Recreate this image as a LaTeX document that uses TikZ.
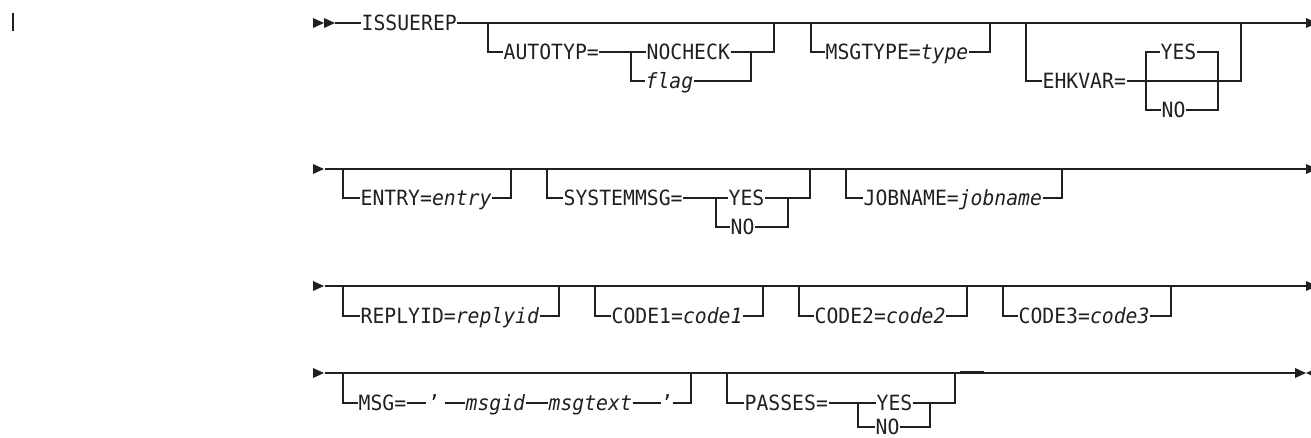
\documentclass[tikz,border=0pt]{standalone}
\usepackage{fontspec}
\newfontfamily\dgfont[FakeStretch=0.94]{DejaVu Sans Mono}
\definecolor{ink}{RGB}{35,31,32}
\tikzset{
  ln/.style={draw=ink, line width=1.2pt},
  kw/.style={font=\dgfont\fontsize{21pt}{25pt}\selectfont, text=ink, inner xsep=0.5pt, inner ysep=0pt,
             text height=15pt, text depth=0pt, anchor=west},
  qt/.style={kw, anchor=center, inner xsep=0pt},
  rtri/.pic={\fill[ink] (0,-5) -- (11,0) -- (0,5) -- cycle;},
  ltri/.pic={\fill[ink] (11,-5) -- (0,0) -- (11,5) -- cycle;},
}
\begin{document}
\begin{tikzpicture}[x=1pt,y=-1pt]
\useasboundingbox (0,0) rectangle (1311,437);
% revision bar
\draw[ink, line width=2.6pt] (13,13) -- (13,31);

% ---------------- row 1 ----------------
\pic at (313,23) {rtri};
\pic at (324,23) {rtri};
\coordinate (s1) at (335,23);
\node[kw] (issue) at (361,23) {ISSUEREP};
\coordinate (e1) at (1306,23);
\draw[ln] (s1) -- (issue.west);
\draw[ln] (issue.east) -- (e1);
\pic at (e1) {rtri};
% AUTOTYP
\coordinate (a0) at (488,23);
\node[kw] (auto) at (503,52) {AUTOTYP=};
\coordinate (a1) at (631,52);
\coordinate (a1b) at (631,81);
\node[kw] (nochk) at (646,52) {NOCHECK};
\node[kw] (flag) at (645,81) {\itshape flag};
\coordinate (a2) at (751,52);
\coordinate (a2b) at (751,81);
\coordinate (a3) at (774,23);
\draw[ln] (a0) |- (auto.west);
\draw[ln] (auto.east) -- (a1) -- (nochk.west);
\draw[ln] (a1) -- (a1b) -- (flag.west);
\draw[ln] (nochk.east) -- (a2) -| (a3);
\draw[ln] (flag.east) -- (a2b) -- (a2);
% MSGTYPE
\coordinate (m0) at (811,23);
\node[kw] (msgt) at (825,52) {MSGTYPE=\textit{type}};
\coordinate (m1) at (990,23);
\draw[ln] (m0) |- (msgt.west);
\draw[ln] (msgt.east) -| (m1);
% EHKVAR
\coordinate (h0) at (1026,23);
\node[kw] (ehk) at (1042,81) {EHKVAR=};
\coordinate (h1) at (1241,23);
\draw[ln] (h0) |- (ehk.west);
\draw[ln] (ehk.east) -| (h1);
\coordinate (hy) at (1146,52);
\coordinate (hn) at (1146,110);
\node[kw] (hyes) at (1160,52) {YES};
\node[kw] (hno) at (1161,110) {NO};
\coordinate (hyr) at (1218,52);
\coordinate (hnr) at (1218,110);
\draw[ln] (hyes.west) -- (hy) -- (hn) -- (hno.west);
\draw[ln] (hyes.east) -- (hyr) -- (hnr) -- (hno.east);

% ---------------- row 2 ----------------
\pic at (313,169) {rtri};
\coordinate (s2) at (325,169);
\coordinate (e2) at (1306,169);
\draw[ln] (s2) -- (e2);
\pic at (e2) {rtri};
% ENTRY
\coordinate (n0) at (343,169);
\node[kw] (entry) at (360,198) {ENTRY=\textit{entry}};
\coordinate (n1) at (511,169);
\draw[ln] (n0) |- (entry.west);
\draw[ln] (entry.east) -| (n1);
% SYSTEMMSG
\coordinate (y0) at (547,169);
\node[kw] (sysm) at (563,198) {SYSTEMMSG=};
\coordinate (y1) at (716,198);
\coordinate (y1b) at (716,227);
\node[kw] (syes) at (728,198) {YES};
\node[kw] (sno) at (730,227) {NO};
\coordinate (y2) at (788,198);
\coordinate (y2b) at (788,227);
\coordinate (y3) at (810,169);
\draw[ln] (y0) |- (sysm.west);
\draw[ln] (sysm.east) -- (y1) -- (syes.west);
\draw[ln] (y1) -- (y1b) -- (sno.west);
\draw[ln] (syes.east) -- (y2) -| (y3);
\draw[ln] (sno.east) -- (y2b) -- (y2);
% JOBNAME
\coordinate (j0) at (846,169);
\node[kw] (job) at (863,198) {JOBNAME=\textit{jobname}};
\coordinate (j1) at (1062,169);
\draw[ln] (j0) |- (job.west);
\draw[ln] (job.east) -| (j1);

% ---------------- row 3 ----------------
\pic at (313,286) {rtri};
\coordinate (s3) at (325,286);
\coordinate (e3) at (1306,286);
\draw[ln] (s3) -- (e3);
\pic at (e3) {rtri};
% REPLYID
\coordinate (r0) at (343,286);
\node[kw] (reply) at (360,316) {REPLYID=\textit{replyid}};
\coordinate (r1) at (559,286);
\draw[ln] (r0) |- (reply.west);
\draw[ln] (reply.east) -| (r1);
% CODE1
\coordinate (c10) at (595,286);
\node[kw] (code1) at (611,316) {CODE1=\textit{code1}};
\coordinate (c11) at (763,286);
\draw[ln] (c10) |- (code1.west);
\draw[ln] (code1.east) -| (c11);
% CODE2
\coordinate (c20) at (799,286);
\node[kw] (code2) at (814,316) {CODE2=\textit{code2}};
\coordinate (c21) at (967,286);
\draw[ln] (c20) |- (code2.west);
\draw[ln] (code2.east) -| (c21);
% CODE3
\coordinate (c30) at (1003,286);
\node[kw] (code3) at (1018,316) {CODE3=\textit{code3}};
\coordinate (c31) at (1171,286);
\draw[ln] (c30) |- (code3.west);
\draw[ln] (code3.east) -| (c31);

% ---------------- row 4 ----------------
\pic at (313,373) {rtri};
\coordinate (s4) at (325,373);
\coordinate (e4) at (1295,373);
\draw[ln] (s4) -- (e4);
\pic at (e4) {rtri};
\pic at (1306,373) {ltri};
\draw[ink, line width=2.2pt] (960,372.4) -- (984,372.4);
% MSG
\coordinate (g0) at (343,373);
\node[kw] (msg) at (358,403) {MSG=};
\node[qt, minimum width=16pt] (q1) at (434,403) {’};
\node[kw] (msgid) at (465,403) {\itshape msgid};
\node[kw] (msgtext) at (548,403) {\itshape msgtext};
\node[qt, minimum width=12pt] (q2) at (667,403) {’};
\coordinate (g1) at (691,373);
\draw[ln] (g0) |- (msg.west);
\draw[ln] (msg.east) -- (q1.west);
\draw[ln] ([xshift=3pt]q1.east) -- (msgid.west);
\draw[ln] (msgid.east) -- (msgtext.west);
\draw[ln] (msgtext.east) -- (q2.west);
\draw[ln] (q2.east) -| (g1);
% PASSES
\coordinate (p0) at (727,373);
\node[kw] (pass) at (744,403) {PASSES=};
\coordinate (p1) at (858,403);
\coordinate (p1b) at (858,427);
\node[kw] (pyes) at (876,403) {YES};
\node[kw] (pno) at (875,427) {NO};
\coordinate (p2) at (930,403);
\coordinate (p2b) at (930,427);
\coordinate (p3) at (955,373);
\draw[ln] (p0) |- (pass.west);
\draw[ln] (pass.east) -- (p1) -- (pyes.west);
\draw[ln] (p1) -- (p1b) -- (pno.west);
\draw[ln] (pyes.east) -- (p2) -| (p3);
\draw[ln] (pno.east) -- (p2b) -- (p2);
\end{tikzpicture}
\end{document}
